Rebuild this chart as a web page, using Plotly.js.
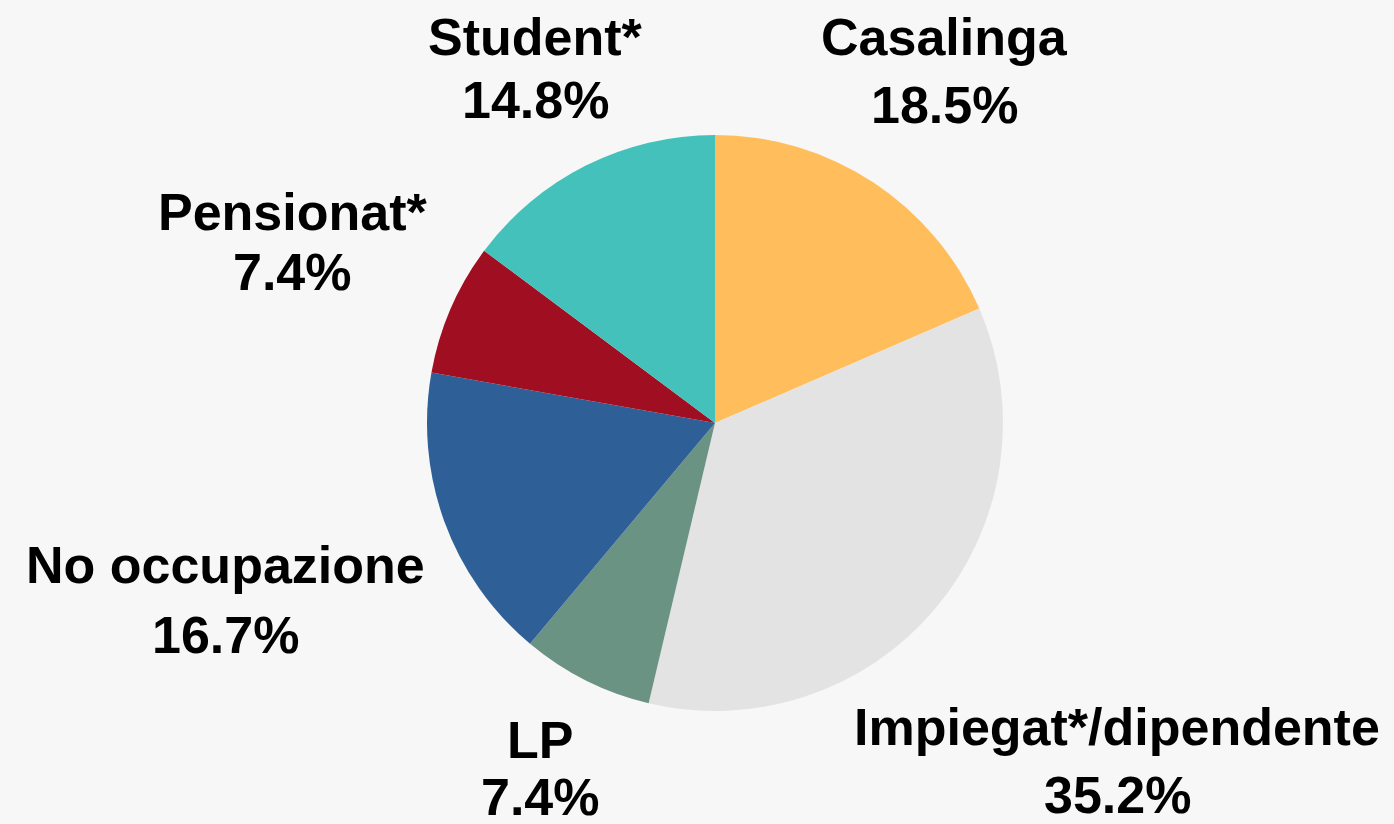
<!DOCTYPE html>
<html>
<head>
<meta charset="utf-8">
<script src="https://cdn.plot.ly/plotly-3.0.1.min.js"></script>
<style>
  html, body { margin: 0; padding: 0; background: #f7f7f7; }
  #plot { width: 1394px; height: 824px; }
</style>
</head>
<body>
<div id="plot"></div>
<script>
// occupation shares (percent), clockwise from 12 o'clock
let categories = ["Casalinga", "Impiegat*/dipendente", "LP", "No occupazione", "Pensionat*", "Student*"];
let shares = [18.5, 35.2, 7.4, 16.7, 7.4, 14.8];
let sliceColors = ["#ffbe5b", "#e3e3e3", "#6b9384", "#2e5f97", "#a00e21", "#43c1ba"];

// label placement in pixels: [center x, y of name line, y of percent line]
let labelPos = [
    [945, 37, 105],
    [1117, 727, 795],
    [540, 740, 797],
    [225, 565, 635],
    [292, 212, 272],
    [535, 37, 100]
];

const W = 1394, H = 824;
const labelFont = { family: "Liberation Sans, Arial, Helvetica, sans-serif", size: 52, color: "#000000", weight: "bold" };

let total = shares.reduce((a, b) => a + b, 0);

// build annotations: name line and percent line for each slice
let annotations = [];
for (var i = 0; i < categories.length; i++) {
    let p = labelPos[i];
    let pct = (shares[i] / total * 100).toFixed(1) + "%";
    annotations.push({
        text: categories[i], xref: "paper", yref: "paper",
        x: p[0] / W, y: 1 - p[1] / H, xanchor: "center", yanchor: "middle",
        showarrow: false, font: labelFont
    });
    annotations.push({
        text: pct, xref: "paper", yref: "paper",
        x: p[0] / W, y: 1 - p[2] / H, xanchor: "center", yanchor: "middle",
        showarrow: false, font: labelFont
    });
}

let pieTrace = {
    type: "pie",
    labels: categories,
    values: shares,
    sort: false,
    direction: "clockwise",
    rotation: 0,
    textinfo: "none",
    hoverinfo: "label+percent",
    marker: { colors: sliceColors, line: { width: 0 } },
    domain: { x: [427 / W, 1003 / W], y: [113 / H, 689 / H] },
    showlegend: false
};

let layout = {
    width: W,
    height: H,
    margin: { l: 0, r: 0, t: 0, b: 0 },
    paper_bgcolor: "#f7f7f7",
    plot_bgcolor: "#f7f7f7",
    showlegend: false,
    annotations: annotations
};

Plotly.newPlot("plot", [pieTrace], layout, { displayModeBar: false, staticPlot: true });
</script>
</body>
</html>
